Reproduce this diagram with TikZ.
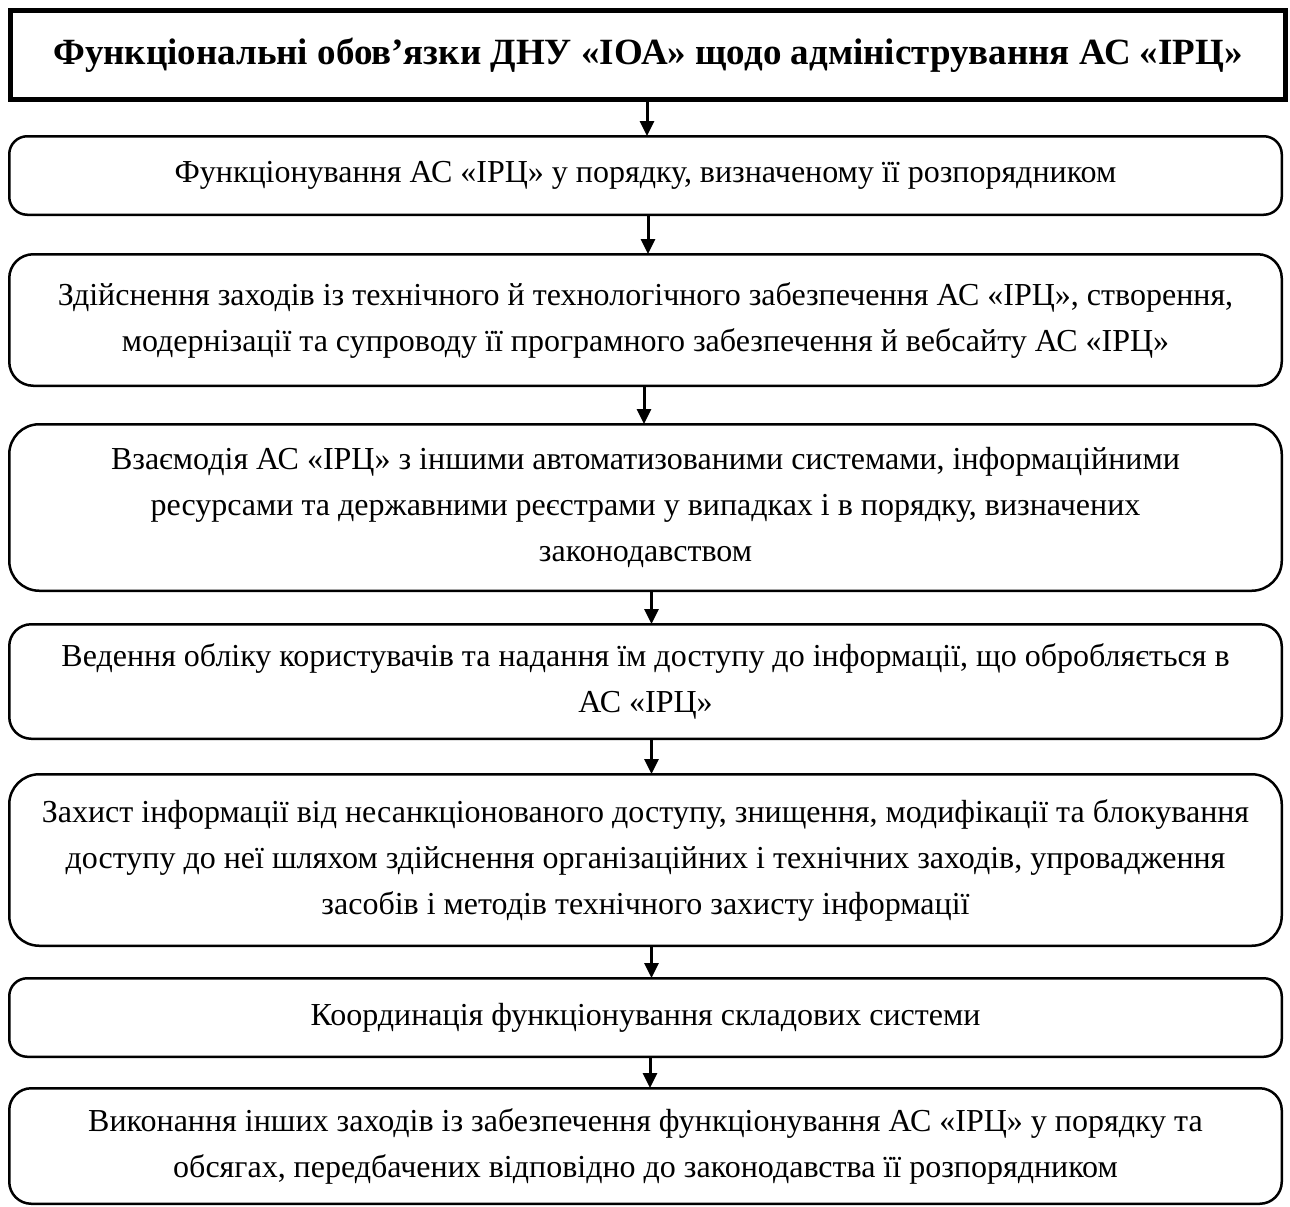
\documentclass[tikz,border=0pt]{standalone}
\usepackage{fontspec}
\setmainfont{Liberation Serif}
\usetikzlibrary{arrows.meta}
\begin{document}
\begin{tikzpicture}[x=1pt,y=-1pt,
  titlebox/.style={draw,line width=5pt,inner sep=0pt,minimum width=1275pt,minimum height=89pt,
    font=\fontsize{37}{44}\selectfont\bfseries},
  fbox/.style={draw,line width=2.5pt,inner sep=0pt,minimum width=1272.5pt,align=center,
    font=\fontsize{32}{46}\selectfont},
  arr/.style={line width=3pt,-{Triangle[width=14pt,length=15pt]},shorten >=-1pt}]
\useasboundingbox (0,0) rectangle (1290,1207);
\node[titlebox] (t) at (648,55) {Функціональні обов’язки ДНУ «ІОА» щодо адміністрування АС «ІРЦ»};
\node[fbox,minimum height=78.5pt,rounded corners=18pt] (b1) at (645.5,175.5)
  {Функціонування АС «ІРЦ» у порядку, визначеному її розпорядником};
\node[fbox,minimum height=131.5pt,rounded corners=24pt] (b2) at (645.5,320)
  {Здійснення заходів із технічного й технологічного забезпечення АС «ІРЦ», створення,\\
   модернізації та супроводу її програмного забезпечення й вебсайту АС «ІРЦ»};
\node[fbox,minimum height=166.5pt,rounded corners=30pt] (b3) at (645.5,507.5)
  {Взаємодія АС «ІРЦ» з іншими автоматизованими системами, інформаційними\\
   ресурсами та державними реєстрами у випадках і в порядку, визначених\\
   законодавством};
\node[fbox,minimum height=114.5pt,rounded corners=22pt] (b4) at (645.5,681.5)
  {Ведення обліку користувачів та надання їм доступу до інформації, що обробляється в\\
   АС «ІРЦ»};
\node[fbox,minimum height=171.5pt,rounded corners=30pt] (b5) at (645.5,860)
  {Захист інформації від несанкціонованого доступу, знищення, модифікації та блокування\\
   доступу до неї шляхом здійснення організаційних і технічних заходів, упровадження\\
   засобів і методів технічного захисту інформації};
\node[fbox,minimum height=78.5pt,rounded corners=18pt] (b6) at (645.5,1017.5)
  {Координація функціонування складових системи};
\node[fbox,minimum height=115.5pt,rounded corners=22pt] (b7) at (645.5,1146)
  {Виконання інших заходів із забезпечення функціонування АС «ІРЦ» у порядку та\\
   обсягах, передбачених відповідно до законодавства її розпорядником};
\draw[arr] ([xshift=-1pt]t.south) -- ([xshift=1.5pt]b1.north);
\draw[arr] ([xshift=2.5pt]b1.south) -- ([xshift=2.5pt]b2.north);
\draw[arr] ([xshift=-1.5pt]b2.south) -- ([xshift=-1.5pt]b3.north);
\draw[arr] ([xshift=6pt]b3.south) -- ([xshift=6pt]b4.north);
\draw[arr] ([xshift=6pt]b4.south) -- ([xshift=6pt]b5.north);
\draw[arr] ([xshift=6pt]b5.south) -- ([xshift=6pt]b6.north);
\draw[arr] ([xshift=4.5pt]b6.south) -- ([xshift=4.5pt]b7.north);
\end{tikzpicture}
\end{document}
